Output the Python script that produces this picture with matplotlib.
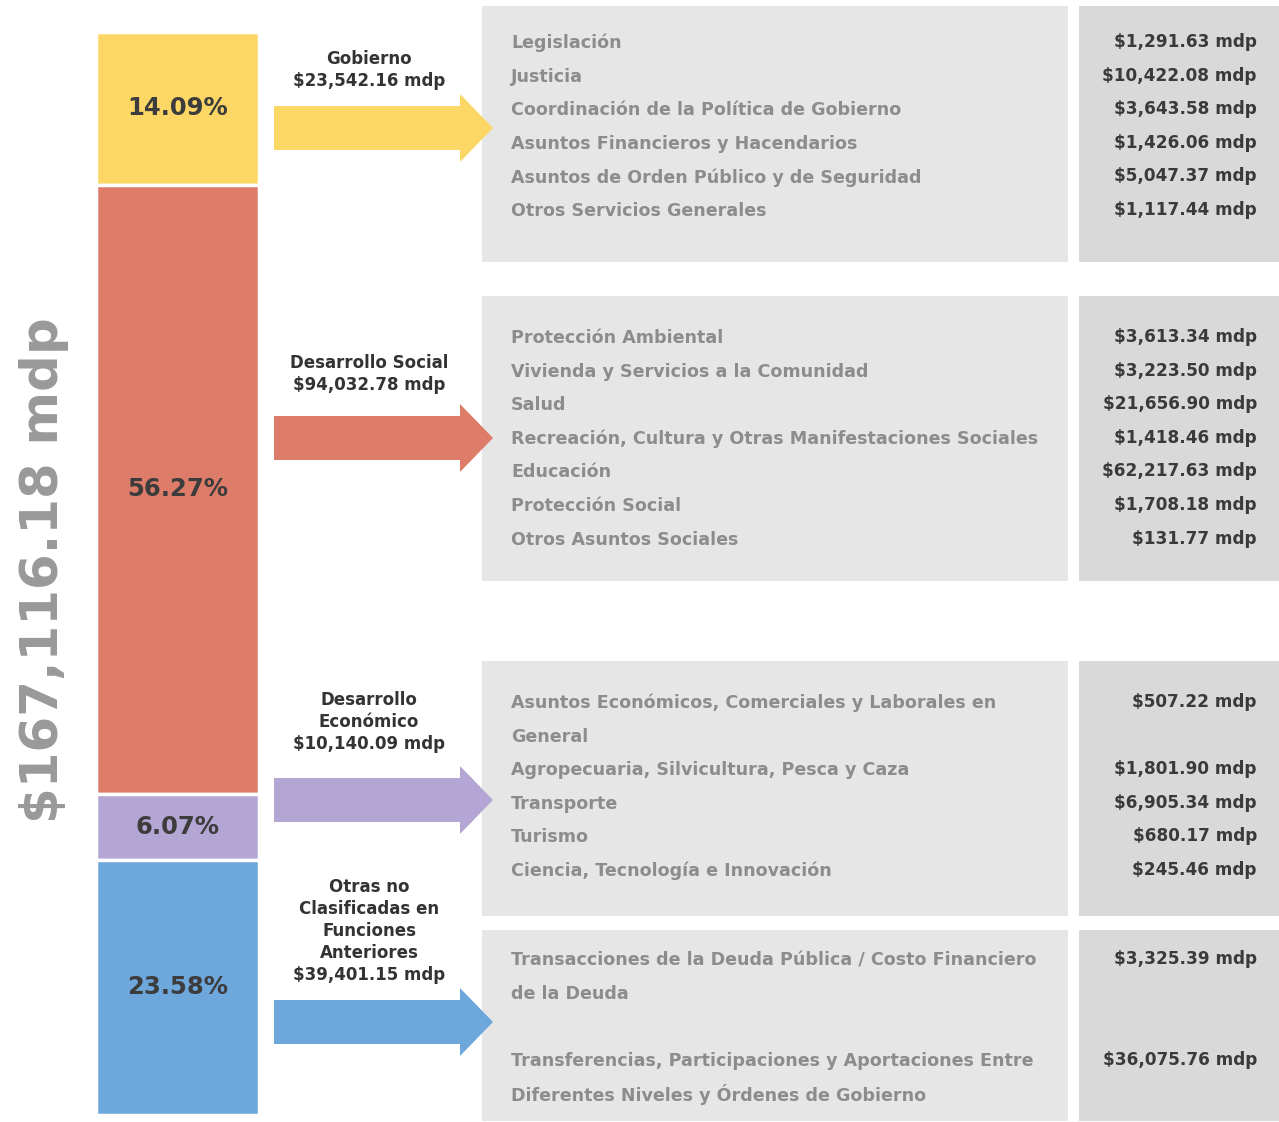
import matplotlib.pyplot as plt
from matplotlib.patches import Rectangle, Polygon

# --- datos ---
funciones = ["Gobierno", "Desarrollo Social", "Desarrollo\nEconómico",
             "Otras no\nClasificadas en\nFunciones\nAnteriores"]
montos = ["$23,542.16 mdp", "$94,032.78 mdp", "$10,140.09 mdp", "$39,401.15 mdp"]
porcentajes = [14.09, 56.27, 6.07, 23.58]
total = "$167,116.18 mdp"

sub_gobierno = ["Legislación", "Justicia", "Coordinación de la Política de Gobierno",
                "Asuntos Financieros y Hacendarios", "Asuntos de Orden Público y de Seguridad",
                "Otros Servicios Generales"]
val_gobierno = ["$1,291.63 mdp", "$10,422.08 mdp", "$3,643.58 mdp", "$1,426.06 mdp",
                "$5,047.37 mdp", "$1,117.44 mdp"]

sub_social = ["Protección Ambiental", "Vivienda y Servicios a la Comunidad", "Salud",
              "Recreación, Cultura y Otras Manifestaciones Sociales", "Educación",
              "Protección Social", "Otros Asuntos Sociales"]
val_social = ["$3,613.34 mdp", "$3,223.50 mdp", "$21,656.90 mdp", "$1,418.46 mdp",
              "$62,217.63 mdp", "$1,708.18 mdp", "$131.77 mdp"]

sub_economico = ["Asuntos Económicos, Comerciales y Laborales en\nGeneral",
                 "Agropecuaria, Silvicultura, Pesca y Caza", "Transporte", "Turismo",
                 "Ciencia, Tecnología e Innovación"]
val_economico = ["$507.22 mdp", "$1,801.90 mdp", "$6,905.34 mdp", "$680.17 mdp",
                 "$245.46 mdp"]

sub_otras = ["Transacciones de la Deuda Pública / Costo Financiero\nde la Deuda",
             "Transferencias, Participaciones y Aportaciones Entre\nDiferentes Niveles y Órdenes de Gobierno"]
val_otras = ["$3,325.39 mdp", "$36,075.76 mdp"]

colores = ["#fdd765", "#de7c6a", "#b3a5d4", "#6ea7db"]

W, H = 1279, 1122
fig = plt.figure(figsize=(W / 100, H / 100), dpi=100)
ax = fig.add_axes([0, 0, 1, 1])
ax.set_xlim(0, W)
ax.set_ylim(H, 0)
ax.axis("off")

# barra apilada (porcentajes)
bx = fig.add_axes([96 / W, (H - 1115) / H, 163 / W, 1083 / H])
bottom = 0
for p, c in zip(porcentajes, colores):
    bx.bar(0, p, bottom=bottom, width=1, color=c, edgecolor="white", linewidth=2.5)
    bx.text(0, bottom + p / 2, f"{p:.2f}%", ha="center", va="center",
            fontsize=17.5, fontweight="bold", color="#3c3c3c")
    bottom += p
bx.set_xlim(-0.5, 0.5)
bx.set_ylim(sum(porcentajes), 0)
bx.axis("off")

# total vertical
ax.text(44, 570, total, rotation=90, ha="center", va="center",
        fontsize=37, fontweight="bold", color="#999999")

# flechas y etiquetas centrales
flecha_y = [128, 438, 800, 1022]
etiqueta_y = [70, 374, 722, 931]
for fy, ey, c, f, m in zip(flecha_y, etiqueta_y, colores, funciones, montos):
    pts = [(274, fy - 22), (460, fy - 22), (460, fy - 34), (493, fy),
           (460, fy + 34), (460, fy + 22), (274, fy + 22)]
    ax.add_patch(Polygon(pts, closed=True, color=c, lw=0, zorder=3))
    ax.text(369, ey, f + "\n" + m, ha="center", va="center", fontsize=12,
            fontweight="bold", color="#333333", linespacing=1.3)

# cajas de detalle
cajas = [(6, 262), (296, 581), (661, 916), (930, 1121)]
grupos = [(sub_gobierno, val_gobierno, 43, [0, 1, 2, 3, 4, 5]),
          (sub_social, val_social, 338, [0, 1, 2, 3, 4, 5, 6]),
          (sub_economico, val_economico, 703, [0, 2, 3, 4, 5]),
          (sub_otras, val_otras, 960, [0, 3])]
paso = 33.6
for (y0, y1), (nombres, valores, ys, slots) in zip(cajas, grupos):
    ax.add_patch(Rectangle((482, y0), 586, y1 - y0, color="#e6e6e6", lw=0, zorder=1))
    ax.add_patch(Rectangle((1079, y0), 200, y1 - y0, color="#d9d9d9", lw=0, zorder=1))
    for n, v, s in zip(nombres, valores, slots):
        for k, linea in enumerate(n.split("\n")):
            ax.text(511, ys + (s + k) * paso, linea, ha="left", va="center",
                    fontsize=12.6, fontweight="bold", color="#8c8c8c")
        ax.text(1257, ys + s * paso - 1, v, ha="right", va="center",
                fontsize=12.2, fontweight="bold", color="#3a3a3a")

fig.savefig("out.png", dpi=100)
